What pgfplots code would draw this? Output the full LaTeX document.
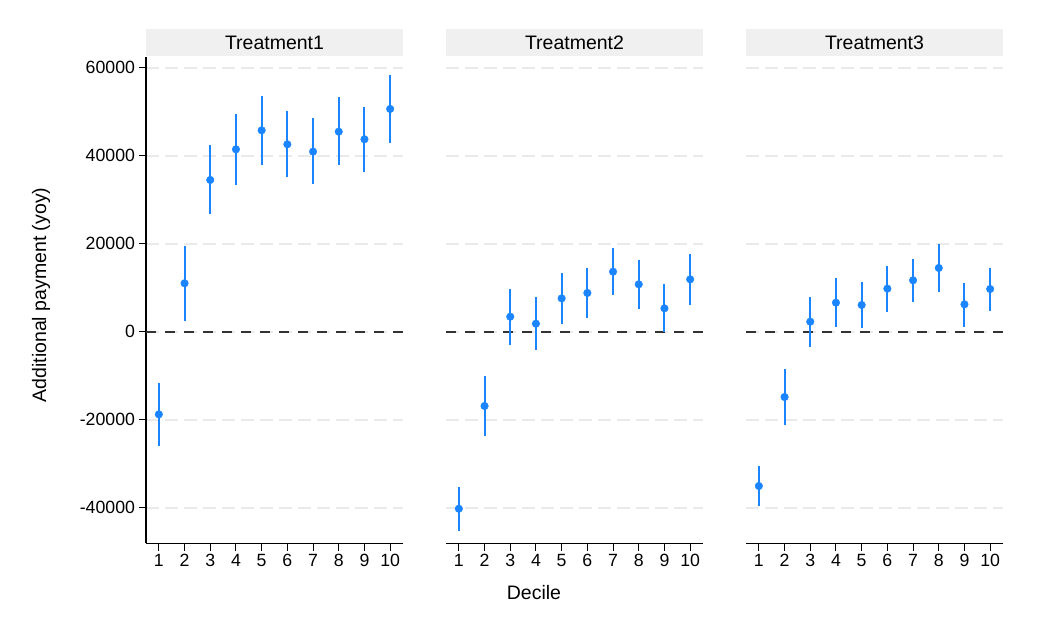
\documentclass[border=0pt]{standalone}
\usepackage{pgfplots}
\pgfplotsset{compat=1.18}
\usepackage{pgfplotstable}
\usepackage{fontspec}
\setmainfont{Liberation Sans}

\definecolor{stc1}{RGB}{26,133,255}
\definecolor{stripgray}{RGB}{240,240,240}
\definecolor{gridgray}{RGB}{234,234,234}
\definecolor{zeroline}{RGB}{51,51,51}

% decile, estimate, upper and lower CI distance
\pgfplotstableread{
x y ep em
1 -18780 7190 7130
2 11000 8480 8500
3 34480 7960 7800
4 41450 8030 8110
5 45770 7810 7880
6 42590 7570 7350
7 40920 7580 7420
8 45460 7820 7640
9 43730 7270 7430
10 50620 7660 7660
}\tone
\pgfplotstableread{
x y ep em
1 -40230 5000 5150
2 -16890 6820 6820
3 3410 6370 6360
4 1820 5990 5980
5 7580 5760 5910
6 8800 5600 5610
7 13640 5310 5300
8 10770 5600 5610
9 5310 5460 5310
10 11900 5760 5830
}\ttwo
\pgfplotstableread{
x y ep em
1 -35070 4540 4550
2 -14840 6430 6370
3 2270 5690 5680
4 6590 5540 5450
5 6070 5230 5300
6 9780 5220 5230
7 11680 4770 4860
8 14480 5450 5390
9 6220 4920 5080
10 9700 4780 4930
}\tthree

\pgfplotsset{
  panel/.style={
    scale only axis,
    width=257pt, height=486.3pt,
    anchor=south west,
    xmin=0.5, xmax=10.5,
    ymin=-48090, ymax=62430,
    xtick={1,...,10},
    ytick={-40000,-20000,0,20000,40000,60000},
    scaled y ticks=false,
    axis x line*=bottom,
    axis y line*=left,
    axis line style={line width=1.2pt, black},
    tick align=outside,
    major tick length=7.5pt,
    tick style={line width=1pt, black},
    ymajorgrids,
    major grid style={gridgray, line width=1.8pt, dash pattern=on 13pt off 6pt},
    ticklabel style={font=\fontsize{17.7}{20}\selectfont},
    /pgf/number format/assume math mode=true,
    /pgf/number format/1000 sep={},
    every axis title shift=0pt,
    title style={at={(0.5,1)}, anchor=south, yshift=0.5pt,
      fill=stripgray, minimum width=257pt, minimum height=27pt,
      inner sep=0pt, text height=14pt, text depth=0pt,
      font=\fontsize{19.5}{22}\selectfont},
    clip=false,
  },
  blank y/.style={
    y axis line style={draw=none},
    ytick style={draw=none},
    yticklabels={},
  },
  est/.style={
    stc1, mark=*, mark size=3.8pt, only marks,
    error bars/.cd, y dir=both, y explicit, error mark=none,
    error bar style={line width=2pt, stc1},
  },
}

\begin{document}
\begin{tikzpicture}
\path[use as bounding box] (0,0) rectangle (1046pt,628pt);

\begin{axis}[panel, at={(146pt,84.7pt)}, title={Treatment1}]
  \addplot[zeroline, line width=2.2pt, dash pattern=on 9.5pt off 9.5pt] coordinates {(0.5,0) (10.5,0)};
  \addplot[est] table[x=x, y=y, y error plus=ep, y error minus=em] {\tone};
\end{axis}

\begin{axis}[panel, blank y, at={(446pt,84.7pt)}, title={Treatment2}]
  \addplot[zeroline, line width=2.2pt, dash pattern=on 9.5pt off 9.5pt] coordinates {(0.5,0) (10.5,0)};
  \addplot[est] table[x=x, y=y, y error plus=ep, y error minus=em] {\ttwo};
\end{axis}

\begin{axis}[panel, blank y, at={(746pt,84.7pt)}, title={Treatment3}]
  \addplot[zeroline, line width=2.2pt, dash pattern=on 9.5pt off 9.5pt] coordinates {(0.5,0) (10.5,0)};
  \addplot[est] table[x=x, y=y, y error plus=ep, y error minus=em] {\tthree};
\end{axis}

\node[rotate=90, font=\fontsize{19.5}{22}\selectfont] at (41pt,333pt) {Additional payment (yoy)};
\node[anchor=base, font=\fontsize{19.5}{22}\selectfont] at (534pt,28pt) {Decile};
\end{tikzpicture}
\end{document}
